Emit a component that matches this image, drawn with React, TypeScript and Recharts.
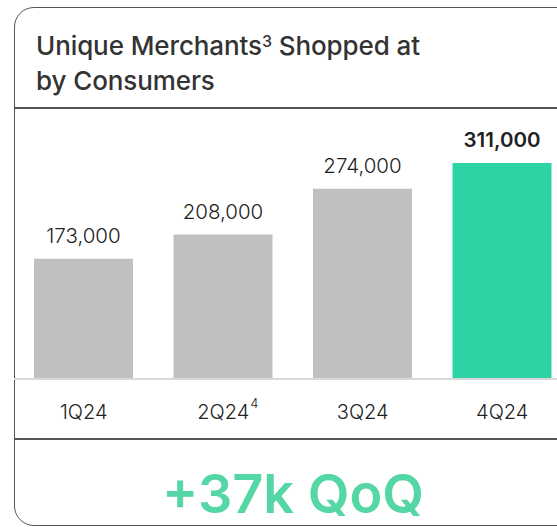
import { BarChart, Bar, XAxis, YAxis, Cell, LabelList } from 'recharts';

const quarters = ['1Q24', '2Q24', '3Q24', '4Q24'];
const merchants = [173000, 208000, 274000, 311000];
const footnotes = ['', '4', '', ''];

const data = quarters.map((q, i) => ({ quarter: q, merchants: merchants[i], note: footnotes[i] }));

const FONT = 'Inter, "Noto Sans", sans-serif';
const GREEN = '#2ed3a5';
const GRAY = '#c0c0c0';

const QuarterTick = (props: any) => {
  const { x, y, payload, index } = props;
  const note = footnotes[index];
  return (
    <g>
      <text x={x} y={y} dy={32} textAnchor="middle" fontFamily={FONT} fontSize={20} fontWeight={300} fill="#222">
        {payload.value}
      </text>
      {note && (
        <text x={x + 27} y={y} dy={21} fontFamily={FONT} fontSize={13} fontWeight={300} fill="#222">
          {note}
        </text>
      )}
    </g>
  );
};

const ValueLabel = (props: any) => {
  const { x, y, width, value, index } = props;
  const last = index === merchants.length - 1;
  return (
    <text
      x={x + width / 2}
      y={y - 16}
      textAnchor="middle"
      fontFamily={FONT}
      fontSize={20.5}
      fontWeight={last ? 600 : 300}
      fill="#222"
    >
      {Number(value).toLocaleString('en-US')}
    </text>
  );
};

export default function App() {
  return (
    <div style={{ position: 'absolute', left: 0, top: 0, width: 557, height: 527, overflow: 'hidden', background: '#fff', fontFamily: FONT }}>
      <div style={{ position: 'absolute', left: 14, top: 7, width: 620, height: 517, border: '1.5px solid #555', borderRadius: 20 }} />
      <div style={{ position: 'absolute', left: 36, top: 30, fontSize: 26, lineHeight: '31px', fontWeight: 500, color: '#333', letterSpacing: -0.1 }}>
        Unique Merchants<span style={{ fontSize: 16, position: 'relative', top: -8 }}>3</span> Shopped at
        <br />
        by Consumers
      </div>
      <div style={{ position: 'absolute', left: 14, top: 107, width: 560, height: 1.5, background: '#555' }} />
      <div style={{ position: 'absolute', left: 14, top: 438, width: 560, height: 1.5, background: '#555' }} />
      <div style={{ position: 'absolute', left: 14, top: 108 }}>
        <BarChart width={558} height={331} data={data} margin={{ top: 55, right: 0, bottom: 0, left: 0 }}>
          <YAxis hide domain={[0, 311000]} />
          <XAxis
            dataKey="quarter"
            height={60}
            axisLine={{ stroke: '#d9d9d9', strokeWidth: 2 }}
            tickLine={false}
            interval={0}
            tick={<QuarterTick />}
          />
          <Bar dataKey="merchants" barSize={99} isAnimationActive={false}>
            {data.map((d, i) => (
              <Cell key={d.quarter} fill={i === data.length - 1 ? GREEN : GRAY} />
            ))}
            <LabelList dataKey="merchants" content={<ValueLabel />} />
          </Bar>
        </BarChart>
      </div>
      <div style={{ position: 'absolute', left: 0, width: 586, top: 461, textAlign: 'center', fontSize: 54, lineHeight: '66px', fontWeight: 600, color: '#55d6a5' }}>
        +37k QoQ
      </div>
    </div>
  );
}
